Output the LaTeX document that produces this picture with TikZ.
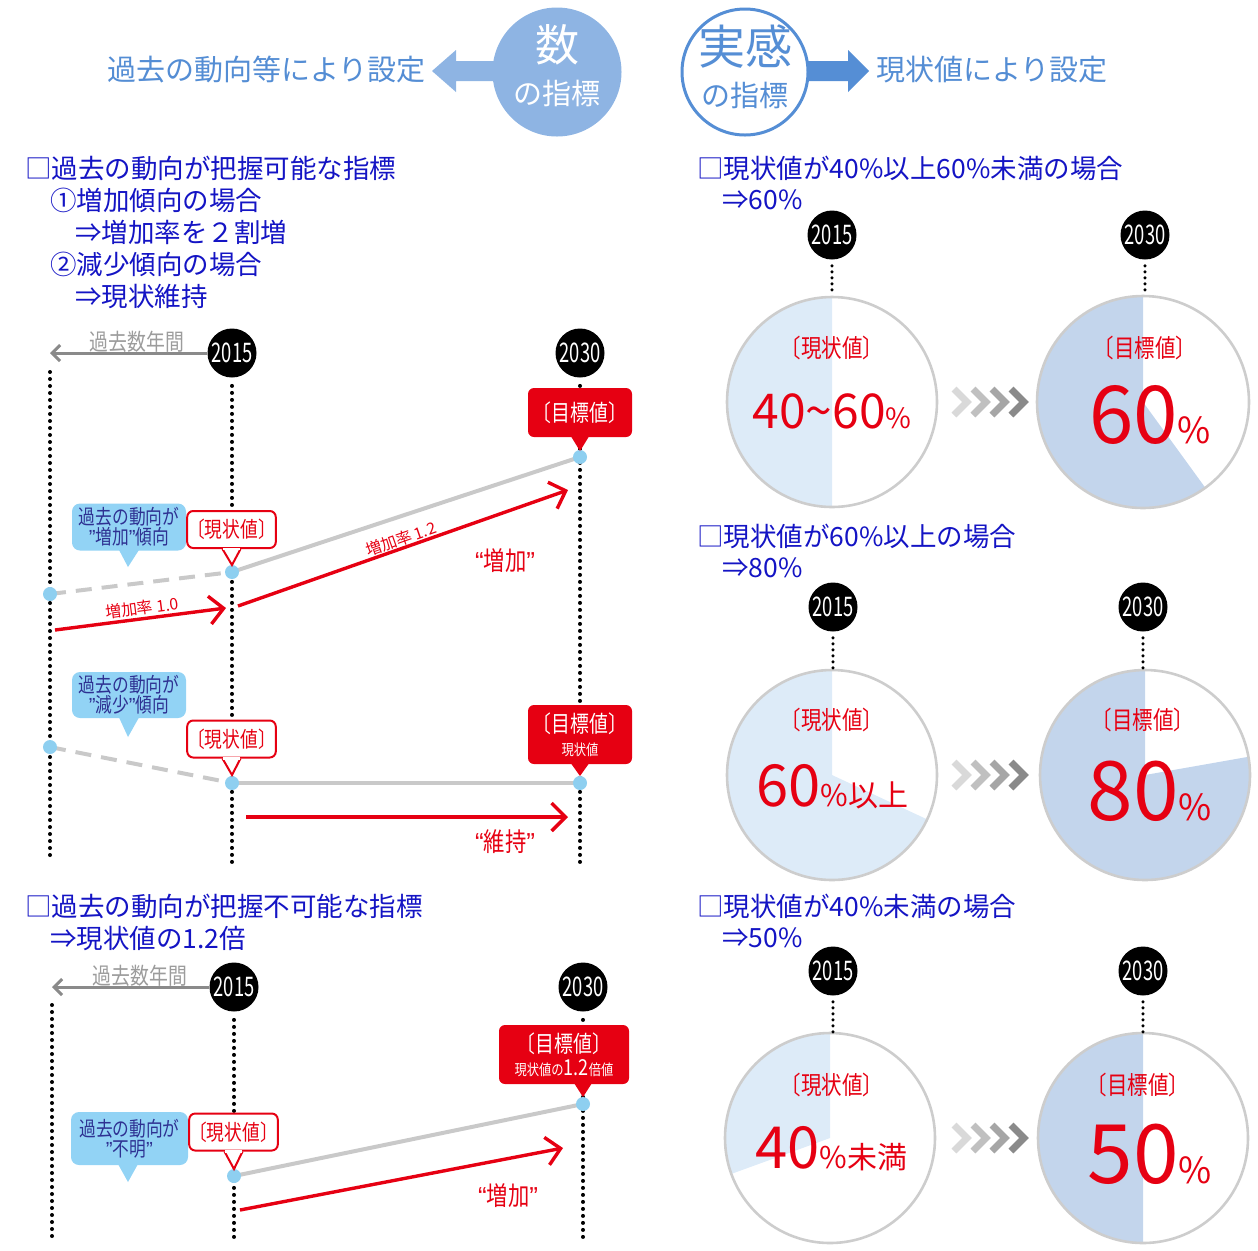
\documentclass[tikz,border=0pt]{standalone}
\usepackage{fontspec}
\usepackage{graphicx}
\setmainfont{Noto Sans CJK JP}
\newfontfamily\cnd[FakeStretch=0.82]{Noto Sans CJK JP}
\newfontfamily\yrf[FakeStretch=0.68]{Noto Sans CJK JP}
\newfontfamily\qf{Liberation Sans}
\usetikzlibrary{arrows.meta,calc}
\definecolor{hblue}{HTML}{548DD4}
\definecolor{cfill}{HTML}{8EB4E3}
\definecolor{cring}{HTML}{558ED5}
\definecolor{dblue}{HTML}{1414C4}
\definecolor{cred}{HTML}{E60012}
\definecolor{ptblue}{HTML}{8ECFF0}
\definecolor{cbfill}{HTML}{92D3F5}
\definecolor{cbtext}{HTML}{2E3192}
\definecolor{lgray}{HTML}{C9C9C9}
\definecolor{agray}{HTML}{8A8A8A}
\definecolor{pielight}{HTML}{DDEBF8}
\definecolor{piedark}{HTML}{C3D5EC}
\definecolor{pieedge}{HTML}{CDCDCD}
\newcommand{\fsz}[1]{\fontsize{#1pt}{#1pt}\selectfont}
\begin{document}
\begin{tikzpicture}[x=0.5pt,y=-0.5pt,
  yr/.style={circle,fill=black,text=white,minimum size=24.5pt,inner sep=0pt,font=\yrf\fsz{13.5}},
  dotv/.style={line width=2pt,dash pattern=on 0pt off 3.5pt,line cap=round},
  dots/.style={line width=1.7pt,dash pattern=on 0pt off 3pt,line cap=round,shorten <=3pt},
  ptn/.style={circle,fill=ptblue,minimum size=7pt,inner sep=0pt},
  gline/.style={lgray,line width=2pt},
  gdash/.style={lgray,line width=2pt,dash pattern=on 8pt off 5pt},
  rarr/.style={cred,line width=1.7pt,-{Straight Barb[length=7pt,width=14pt]}},
  garr/.style={agray,line width=1.5pt,-{Straight Barb[length=4pt,width=8pt]}},
  redbox/.style={fill=cred,text=white,rounded corners=3pt,inner sep=0pt,align=center},
  wbox/.style={draw=cred,fill=white,line width=1pt,text=cred,rounded corners=3pt,inner sep=0pt,minimum width=43.5pt,minimum height=18.5pt,font=\cnd\fsz{10.8}},
  bbox/.style={fill=cbfill,text=cbtext,rounded corners=4pt,inner sep=0pt,align=center,font=\cnd\fsz{10.2}},
  head/.style={anchor=west,text=dblue,font=\fsz{13.25},inner sep=0pt},
  gtxt/.style={text=agray!85,font=\cnd\fsz{11.5},inner sep=0pt},
  rtxt/.style={text=cred,font=\cnd\fsz{13},inner sep=0pt},
  rsm/.style={text=cred,font=\fsz{8},inner sep=0pt},
  pielab/.style={text=cred,font=\cnd\fsz{12.5},inner sep=0pt},
  pieval/.style={anchor=base,text=cred,inner sep=0pt},
  pieline/.style={pieedge,line width=1.3pt},
]
\useasboundingbox (0,0) rectangle (1258,1250);

% ---------------- header ----------------
\fill[cfill] (500,61) -- (456,61) -- (456,50) -- (432,71) -- (456,92) -- (456,81) -- (500,81) -- cycle;
\node[circle,fill=cfill,minimum size=64.5pt,inner sep=0pt] (kazu) at (557,72) {};
\node[text=white,font=\fsz{22},inner sep=0pt] (kazu1) at (557,45) {数};
\node[text=white,font=\fsz{14.5},inner sep=0pt] (kazu2) at (557,93) {の指標};
\node[anchor=east,text=hblue,font=\fsz{14.5},inner sep=0pt] (hl) at (426,70) {過去の動向等により設定};

\fill[cring] (790,61) -- (848,61) -- (848,50) -- (869,71) -- (848,92) -- (848,81) -- (790,81) -- cycle;
\node[circle,draw=cring,line width=1.5pt,fill=white,minimum size=63pt,inner sep=0pt] (jk) at (745,72) {};
\node[text=cring,font=\fsz{23.5},inner sep=0pt] (jk1) at (745,47) {実感};
\node[text=cring,font=\fsz{14.5},inner sep=0pt] (jk2) at (745,95) {の指標};
\node[anchor=west,text=hblue,font=\fsz{14.5},inner sep=0pt] (hr) at (876,70) {現状値により設定};

% ---------------- left headings ----------------
\node[head] (l1) at (25,168) {□過去の動向が把握可能な指標};
\node[head] (l2) at (50,200) {①増加傾向の場合};
\node[head] (l3) at (75,232) {⇒増加率を２割増};
\node[head] (l4) at (50,264) {②減少傾向の場合};
\node[head] (l5) at (75,296) {⇒現状維持};

% ---------------- left diagram 1 & 2 ----------------
\node[yr] (ya1) at (232,353) {2015};
\node[yr] (yb1) at (580,353) {2030};
\coordinate (ta0) at (50,372);
\coordinate (ba0) at (50,862);
\coordinate (ba1) at (232,862);
\coordinate (bb1) at (580,862);
\draw[dotv] (ta0) -- (ba0);
\draw[dotv,shorten <=4pt] (ya1.south) -- (ba1);
\draw[dotv,shorten <=4pt] (yb1.south) -- (bb1);
\coordinate (ga1) at (50,353);
\draw[garr] (ya1.west) -- (ga1);
\node[gtxt] (gt1) at (137,342) {過去数年間};

% diagram 1
\coordinate (pa1) at (50,594);
\coordinate (pb1) at (232,572);
\coordinate (pc1) at (580,457);
\draw[gdash] (pa1) -- (pb1);
\draw[gline] (pb1) -- (pc1);
\node[ptn] (qa1) at (pa1) {};
\node[ptn] (qb1) at (pb1) {};
\node[ptn] (qc1) at (pc1) {};

\node[bbox,minimum width=57pt,minimum height=23.5pt] (cb1) at (129,527) {過去の動向が\\{\qf ”}増加{\qf ”}傾向};
\fill[cbfill] ($(cb1.south)+(-10,-1)$) -- (128,567) -- ($(cb1.south)+(10,-1)$) -- cycle;

\node[wbox] (cv1) at (231.5,529.5) {〔現状値〕};
\filldraw[fill=white,draw=cred,line width=1pt] ($(cv1.south)+(-9,0)$) -- (232,565) -- ($(cv1.south)+(9,0)$);
\fill[white] ($(cv1.south)+(-8.2,-1.3)$) rectangle ($(cv1.south)+(8.2,1)$);

\node[redbox,minimum width=52pt,minimum height=24.5pt,font=\cnd\fsz{11.5}] (tg1) at (580,412.5) {〔目標値〕};
\fill[cred] ($(tg1.south)+(-9,-1)$) -- (580,451) -- ($(tg1.south)+(9,-1)$) -- cycle;

\coordinate (ra1s) at (55,630);
\coordinate (ra1e) at (226,608);
\draw[rarr] (ra1s) -- (ra1e);
\node[rsm,rotate=7.4] (rl1) at (142,608) {増加率 1.0};
\coordinate (ra2s) at (238,606);
\coordinate (ra2e) at (568,490);
\draw[rarr] (ra2s) -- (ra2e);
\node[rsm,rotate=19.4] (rl2) at (401,539) {増加率\,1.2};
\node[rtxt] (zk1) at (505,561) {{\qf “}増加{\qf ”}};

% diagram 2
\coordinate (pa2) at (50,747);
\coordinate (pb2) at (232,783);
\coordinate (pc2) at (580,783);
\draw[gdash] (pa2) -- (pb2);
\draw[gline] (pb2) -- (pc2);
\node[ptn] (qa2) at (pa2) {};
\node[ptn] (qb2) at (pb2) {};
\node[ptn] (qc2) at (pc2) {};

\node[bbox,minimum width=57pt,minimum height=23pt] (cb2) at (129,695) {過去の動向が\\{\qf ”}減少{\qf ”}傾向};
\fill[cbfill] ($(cb2.south)+(-10,-1)$) -- (128,737) -- ($(cb2.south)+(10,-1)$) -- cycle;

\node[wbox] (cv2) at (231.5,739) {〔現状値〕};
\filldraw[fill=white,draw=cred,line width=1pt] ($(cv2.south)+(-9,0)$) -- (232,775) -- ($(cv2.south)+(9,0)$);
\fill[white] ($(cv2.south)+(-8.2,-1.3)$) rectangle ($(cv2.south)+(8.2,1)$);

\node[redbox,minimum width=52pt,minimum height=29.5pt,font=\cnd\fsz{11.5}] (tg2) at (580,734.5) {〔目標値〕\\[0pt]{\fsz{7.5}現状値}};
\fill[cred] ($(tg2.south)+(-9,-1)$) -- (580,776) -- ($(tg2.south)+(9,-1)$) -- cycle;

\coordinate (ra3s) at (246,817);
\coordinate (ra3e) at (568,817);
\draw[rarr] (ra3s) -- (ra3e);
\node[rtxt] (zk2) at (505,842) {{\qf “}維持{\qf ”}};

% ---------------- bottom left ----------------
\node[head] (l6) at (25,906) {□過去の動向が把握不可能な指標};
\node[head] (l7) at (50,938) {⇒現状値の1.2倍};

\node[yr] (ya3) at (234,987) {2015};
\node[yr] (yb3) at (583,987) {2030};
\coordinate (ta3) at (52,1005);
\coordinate (ba3) at (52,1242);
\coordinate (bb3) at (234,1242);
\coordinate (bc3) at (583,1242);
\draw[dotv] (ta3) -- (ba3);
\draw[dotv,shorten <=4pt] (ya3.south) -- (bb3);
\draw[dotv,shorten <=4pt] (yb3.south) -- (bc3);
\coordinate (ga3) at (52,987);
\draw[garr] (ya3.west) -- (ga3);
\node[gtxt] (gt3) at (140,976) {過去数年間};

\coordinate (pb3) at (234,1176);
\coordinate (pc3) at (583,1104);
\draw[gline] (pb3) -- (pc3);
\node[ptn] (qb3) at (pb3) {};
\node[ptn] (qc3) at (pc3) {};

\node[bbox,minimum width=58.5pt,minimum height=26.5pt] (cb3) at (129.5,1138.5) {過去の動向が\\{\qf ”}不明{\qf ”}};
\fill[cbfill] (118,1164) -- (128,1182) -- (138,1164) -- cycle;

\node[wbox] (cv3) at (233.5,1132) {〔現状値〕};
\filldraw[fill=white,draw=cred,line width=1pt] ($(cv3.south)+(-9,0)$) -- (234,1169) -- ($(cv3.south)+(9,0)$);
\fill[white] ($(cv3.south)+(-8.2,-1.3)$) rectangle ($(cv3.south)+(8.2,1)$);

\node[redbox,minimum width=65pt,minimum height=29.5pt,font=\cnd\fsz{11.5}] (tg3) at (564,1054.5) {〔目標値〕\\[0pt]{\fsz{7.5}現状値の}{\fsz{11}1.2}{\fsz{7.5}倍値}};
\fill[cred] (574,1083) -- (583,1097) -- (592,1083) -- cycle;

\coordinate (ra4s) at (240,1210);
\coordinate (ra4e) at (563,1148);
\draw[rarr] (ra4s) -- (ra4e);
\node[rtxt] (zk3) at (508,1196) {{\qf “}増加{\qf ”}};

% ---------------- right side ----------------
\node[head] (r1) at (697,168) {□現状値が40\%以上60\%未満の場合};
\node[head] (r2) at (722,200) {⇒60\%};
\node[head] (r3) at (697,536) {□現状値が60\%以上の場合};
\node[head] (r4) at (722,568) {⇒80\%};
\node[head] (r5) at (697,906) {□現状値が40\%未満の場合};
\node[head] (r6) at (722,938) {⇒50\%};

% row 1
\coordinate (c1a) at (832,402);
\coordinate (c1b) at (1143,402);
\fill[pielight] (c1a) -- ++(-90:105) arc[start angle=-90,end angle=-270,radius=105] -- cycle;
\draw[pieline] (c1a) circle[radius=105];
\fill[piedark] (c1b) -- ++(-90:106) arc[start angle=-90,end angle=-306,radius=106] -- cycle;
\draw[pieline] (c1b) circle[radius=106];
\node[yr] (y1a) at (832,235) {2015};
\node[yr] (y1b) at (1145,235) {2030};
\coordinate (e1a) at (832,295);
\coordinate (e1b) at (1145,295);
\draw[dots] (y1a.south) -- (e1a);
\draw[dots] (y1b.south) -- (e1b);
\node[pielab] (pl1) at (832,348) {〔現状値〕};
\node[pieval] (pv1) at (832,428) {\fsz{24}40\textasciitilde 60{\fsz{14}\%}};
\node[pielab] (tl1) at (1145,348) {〔目標値〕};
\node[pieval] (tv1) at (1150,443) {\fsz{40}60{\fsz{18}\%}};

% row 2
\coordinate (c2a) at (832,775);
\coordinate (c2b) at (1145,775);
\fill[pielight] (c2a) -- ++(-90:105) arc[start angle=-90,end angle=-335,radius=105] -- cycle;
\draw[pieline] (c2a) circle[radius=105];
\fill[piedark] (c2b) -- ++(-90:105) arc[start angle=-90,end angle=-370,radius=105] -- cycle;
\draw[pieline] (c2b) circle[radius=105];
\node[yr] (y2a) at (833,607) {2015};
\node[yr] (y2b) at (1143,607) {2030};
\coordinate (e2a) at (833,669);
\coordinate (e2b) at (1143,669);
\draw[dots] (y2a.south) -- (e2a);
\draw[dots] (y2b.south) -- (e2b);
\node[pielab] (pl2) at (832,720) {〔現状値〕};
\node[pieval] (pv2) at (832,806) {\fsz{29}60{\fsz{15}\%以上}};
\node[pielab] (tl2) at (1143,720) {〔目標値〕};
\node[pieval] (tv2) at (1150,820) {\fsz{41}80{\fsz{18}\%}};

% row 3
\coordinate (c3a) at (830,1138);
\coordinate (c3b) at (1143,1138);
\fill[pielight] (c3a) -- ++(-90:105) arc[start angle=-90,end angle=-200,radius=105] -- cycle;
\draw[pieline] (c3a) circle[radius=105];
\fill[piedark] (c3b) -- ++(-90:105) arc[start angle=-90,end angle=-270,radius=105] -- cycle;
\draw[pieline] (c3b) circle[radius=105];
\node[yr] (y3a) at (833,971) {2015};
\node[yr] (y3b) at (1143,971) {2030};
\coordinate (e3a) at (833,1032);
\coordinate (e3b) at (1143,1032);
\draw[dots] (y3a.south) -- (e3a);
\draw[dots] (y3b.south) -- (e3b);
\node[pielab] (pl3) at (832,1085) {〔現状値〕};
\node[pieval] (pv3) at (831,1168) {\fsz{29}40{\fsz{15}\%未満}};
\node[pielab] (tl3) at (1138,1085) {〔目標値〕};
\node[pieval] (tv3) at (1150,1183) {\fsz{41}50{\fsz{18}\%}};

% chevrons
\foreach \yy in {402,775,1138}{
  \foreach \xx/\cc in {954/D9D9D9,973/C0C0C0,992/A6A6A6,1011/8A8A8A}{
    \definecolor{chc}{HTML}{\cc}
    \draw[chc,line width=3.5pt,line join=miter] (\xx,\yy-13) -- (\xx+13,\yy) -- (\xx,\yy+13);
  }
}
\end{tikzpicture}
\end{document}
